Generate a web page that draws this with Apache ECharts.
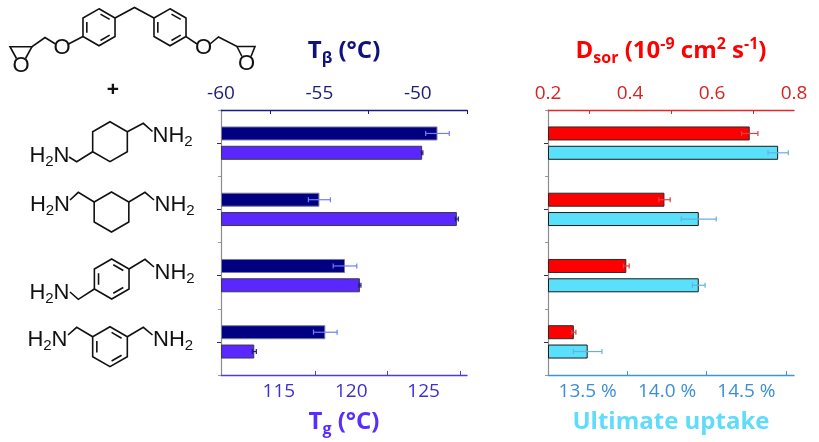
<!DOCTYPE html>
<html>
<head>
<meta charset="utf-8">
<script src="https://cdn.jsdelivr.net/npm/echarts@6/dist/echarts.min.js"></script>
<style>
  html, body { margin: 0; padding: 0; background: #fff; }
  #chart { width: 819px; height: 442px; }
</style>
</head>
<body>
<div id="chart"></div>
<script>
// diamines, top to bottom
const amines = ['1,4-BAC', '1,3-BAC', 'p-XDA', 'm-XDA'];

const tBeta = [-49.0, -55.0, -53.7, -54.7];
const tBetaErr = [0.6, 0.56, 0.6, 0.6];
const tg = [124.9, 127.3, 120.6, 113.3];
const tgErr = [0.05, 0.1, 0.07, 0.14];
const dSor = [0.692, 0.484, 0.391, 0.263];
const dSorErr = [0.02, 0.014, 0.007, 0.005];
const uptake = [14.70, 14.20, 14.20, 13.50];
const uptakeErr = [0.064, 0.11, 0.04, 0.09];

// tick labels and the small inner ticks between them
const tBetaLabels = [-60, -55, -50];
const tBetaTicks = [-57.5, -52.5, -47.5];
const tgLabels = [115, 120, 125];
const tgTicks = [117.5, 122.5, 127.5];
const dSorLabels = [0.2, 0.4, 0.6, 0.8];
const dSorTicks = [0.3, 0.5, 0.7];
const uptakeLabels = [13.5, 14.0, 14.5];
const uptakeTicks = [13.75, 14.25, 14.75];

const FONT = 'Open Sans';
const BAR_W = 14;
const SHIFT = 9.66; // half bar + half gap

const myChart = echarts.init(document.getElementById('chart'));

function valueAxis(grid, pos, min, max, labels, ticks, color, labelColor, fmt, name, nameGap, nameRich) {
  return {
    type: 'value', gridIndex: grid, position: pos, min: min, max: max, startValue: min,
    splitLine: { show: false },
    axisLine: { show: true, onZero: false, lineStyle: { color: color, width: 1.3 } },
    axisTick: { show: true, inside: true, length: 4, customValues: ticks, lineStyle: { color: color, width: 1 } },
    axisLabel: { customValues: labels, color: labelColor, fontFamily: FONT, fontSize: 19, margin: 7, formatter: fmt },
    name: name, nameLocation: 'middle', nameGap: nameGap,
    nameTextStyle: { rich: nameRich }
  };
}

function richName(color) {
  return {
    m: { fontFamily: FONT, fontWeight: 'bold', fontSize: 24, lineHeight: 30, color: color },
    s: { fontFamily: FONT, fontWeight: 'bold', fontSize: 16, lineHeight: 10, verticalAlign: 'bottom', color: color },
    p: { fontFamily: FONT, fontWeight: 'bold', fontSize: 16, lineHeight: 13, verticalAlign: 'top', color: color }
  };
}

function catAxes(grid) {
  return [
    {
      type: 'category', gridIndex: grid, data: amines, inverse: true, position: 'left',
      axisLine: { show: true, lineStyle: { color: '#8c8c8c', width: 1.2 } },
      axisTick: { show: true, alignWithLabel: true, length: 4, lineStyle: { color: '#333' } },
      axisLabel: { show: false }
    },
    {
      type: 'category', gridIndex: grid, data: amines, inverse: true, position: 'left',
      axisLine: { show: false },
      axisTick: { show: true, length: 3, lineStyle: { color: '#999' } },
      axisLabel: { show: false }
    }
  ];
}

function barSeries(values, xi, yi, color, border) {
  return {
    type: 'bar', xAxisIndex: xi, yAxisIndex: yi, data: values,
    barWidth: BAR_W, barGap: '38%',
    itemStyle: { color: color, borderColor: border, borderWidth: 1 }
  };
}

function errorSeries(values, errs, xi, yi, shift, color) {
  return {
    type: 'custom', xAxisIndex: xi, yAxisIndex: yi, z: 5,
    data: values.map((v, i) => [v, i, errs[i]]),
    encode: { x: 0, y: 1 },
    renderItem: function (params, api) {
      const v = api.value(0), c = api.value(1), e = api.value(2);
      const lo = api.coord([v - e, c]);
      const hi = api.coord([v + e, c]);
      const y = lo[1] + shift;
      const st = { stroke: color, lineWidth: 1.2 };
      return {
        type: 'group', children: [
          { type: 'line', shape: { x1: lo[0], y1: y, x2: hi[0], y2: y }, style: st },
          { type: 'line', shape: { x1: lo[0], y1: y - 2.5, x2: lo[0], y2: y + 2.5 }, style: st },
          { type: 'line', shape: { x1: hi[0], y1: y - 2.5, x2: hi[0], y2: y + 2.5 }, style: st }
        ]
      };
    }
  };
}

// ---- chemical structures (decoration) ----
const ink = { stroke: '#111', lineWidth: 1.6, fill: null };
const structs = [];

function hexPts(cx, cy, r) {
  return [0, 1, 2, 3, 4, 5].map(function (k) {
    const a = Math.PI / 2 - k * Math.PI / 3;
    return [cx + r * Math.cos(a), cy - r * Math.sin(a)];
  });
}
function ring(cx, cy, r, aromatic) {
  const p = hexPts(cx, cy, r);
  structs.push({ type: 'polygon', shape: { points: p }, style: ink });
  if (aromatic) {
    [0, 2, 4].forEach(function (k) {
      const a = p[k], b = p[(k + 1) % 6];
      const ia = [cx + (a[0] - cx) * 0.76, cy + (a[1] - cy) * 0.76];
      const ib = [cx + (b[0] - cx) * 0.76, cy + (b[1] - cy) * 0.76];
      const p1 = [ia[0] + (ib[0] - ia[0]) * 0.12, ia[1] + (ib[1] - ia[1]) * 0.12];
      const p2 = [ia[0] + (ib[0] - ia[0]) * 0.88, ia[1] + (ib[1] - ia[1]) * 0.88];
      structs.push({ type: 'polyline', shape: { points: [p1, p2] }, style: ink });
    });
  }
  return p;
}
function bond(points) {
  structs.push({ type: 'polyline', shape: { points: points }, style: ink });
}
const atomRich = {
  n: { fontFamily: 'Liberation Sans', fontSize: 22, lineHeight: 26, fill: '#111' },
  s: { fontFamily: 'Liberation Sans', fontSize: 15, lineHeight: 10, verticalAlign: 'bottom', fill: '#111' }
};
function atom(text, x, y, align) {
  structs.push({
    type: 'text', x: x, y: y,
    style: { text: text, rich: atomRich, align: align, verticalAlign: 'middle', fontFamily: 'Liberation Sans', fontSize: 22, fill: '#111' }
  });
}

// diglycidyl ether of bisphenol F
let r1 = ring(99, 27.3, 18.5, true);
let r2 = ring(170, 27.3, 18.5, true);
bond([r1[1], [134.5, 7.5], r2[5]]);
bond([r1[4], [68.5, 44]]);
atom('{n|O}', 62, 48, 'center');
bond([[55.5, 44], [45, 37.5], [32, 46.7], [10, 46.7], [16.5, 58.5]]);
bond([[32, 46.7], [25.5, 58.5]]);
atom('{n|O}', 21, 66, 'center');
bond([r2[2], [197, 44]]);
atom('{n|O}', 203.5, 48, 'center');
bond([[210, 44], [218.5, 37], [237, 46.5], [255, 46.5], [251, 56.5]]);
bond([[237, 46.5], [242, 56.5]]);
atom('{n|O}', 246.5, 64, 'center');
structs.push({ type: 'text', x: 113, y: 90, style: { text: '+', fontFamily: 'Liberation Sans', fontWeight: 'bold', fontSize: 21, fill: '#111', align: 'center', verticalAlign: 'middle' } });

// 1,4-bis(aminomethyl)cyclohexane
let p = ring(110, 141.7, 20, false);
bond([p[1], [143.3, 123.3], [152.5, 131.5]]);
atom('{n|NH}{s|2}', 152.5, 136, 'left');
bond([p[4], [76.7, 161.7], [69, 157]]);
atom('{n|H}{s|2}{n|N}', 69.5, 156, 'right');

// 1,3-bis(aminomethyl)cyclohexane
p = ring(111.5, 212, 20, false);
bond([p[5], [78.3, 192.3], [70, 200]]);
atom('{n|H}{s|2}{n|N}', 70, 205, 'right');
bond([p[1], [145, 192.3], [154, 200]]);
atom('{n|NH}{s|2}', 154.5, 205, 'left');

// p-xylylenediamine
p = ring(111.7, 279, 20, true);
bond([p[1], [145, 259.3], [154, 267]]);
atom('{n|NH}{s|2}', 154.5, 273, 'left');
bond([p[4], [78.3, 299.3], [70, 292]]);
atom('{n|H}{s|2}{n|N}', 69.5, 293, 'right');

// m-xylylenediamine
p = ring(110, 346.7, 20, true);
bond([p[5], [76.7, 327.3], [68, 335]]);
atom('{n|H}{s|2}{n|N}', 67.5, 340, 'right');
bond([p[1], [143.3, 327.3], [152.5, 335]]);
atom('{n|NH}{s|2}', 153, 340, 'left');

const option = {
  animation: false,
  grid: [
    { left: 221, right: 352, top: 110, bottom: 67 },
    { left: 548, right: 25, top: 110, bottom: 67 }
  ],
  xAxis: [
    valueAxis(0, 'top', -60, -47.5, tBetaLabels, tBetaTicks, '#1a1a80', '#1c1c78', null,
      '{m|T}{s|β}{m| (°C)}', 44, richName('#10107f')),
    valueAxis(0, 'bottom', 111, 128, tgLabels, tgTicks, '#4b3be0', '#3b30d0', null,
      '{m|T}{s|g}{m| (°C)}', 32, richName('#5a2dff')),
    valueAxis(1, 'top', 0.2, 0.8, dSorLabels, dSorTicks, '#e02828', '#d42424',
      function (v) { return v.toFixed(1); },
      '{m|D}{s|sor}{m| (10}{p|-9}{m| cm}{p|2}{m| s}{p|-1}{m|)}', 44, richName('#ff0000')),
    valueAxis(1, 'bottom', 13.25, 14.8, uptakeLabels, uptakeTicks, '#3d93e0', '#3a8ed8',
      function (v) { return v.toFixed(1) + ' %'; },
      '{m|Ultimate uptake}', 32, richName('#5edcfa'))
  ],
  yAxis: catAxes(0).concat(catAxes(1)),
  series: [
    barSeries(tBeta, 0, 0, '#000080', '#7a7a9a'),
    barSeries(tg, 1, 0, '#5a28ff', '#3a3a4a'),
    barSeries(dSor, 2, 2, '#ff0000', '#2a2a2a'),
    barSeries(uptake, 3, 2, '#59e1fc', '#1a1a1a'),
    errorSeries(tBeta, tBetaErr, 0, 0, -SHIFT, '#6f7dff'),
    errorSeries(tg, tgErr, 1, 0, SHIFT, '#1c1c6e'),
    errorSeries(dSor, dSorErr, 2, 2, -SHIFT, '#e04040'),
    errorSeries(uptake, uptakeErr, 3, 2, SHIFT, '#6aaee0')
  ],
  graphic: structs
};
myChart.setOption(option);

window.addEventListener('resize', function () {
  myChart.resize();
});
</script>
</body>
</html>
